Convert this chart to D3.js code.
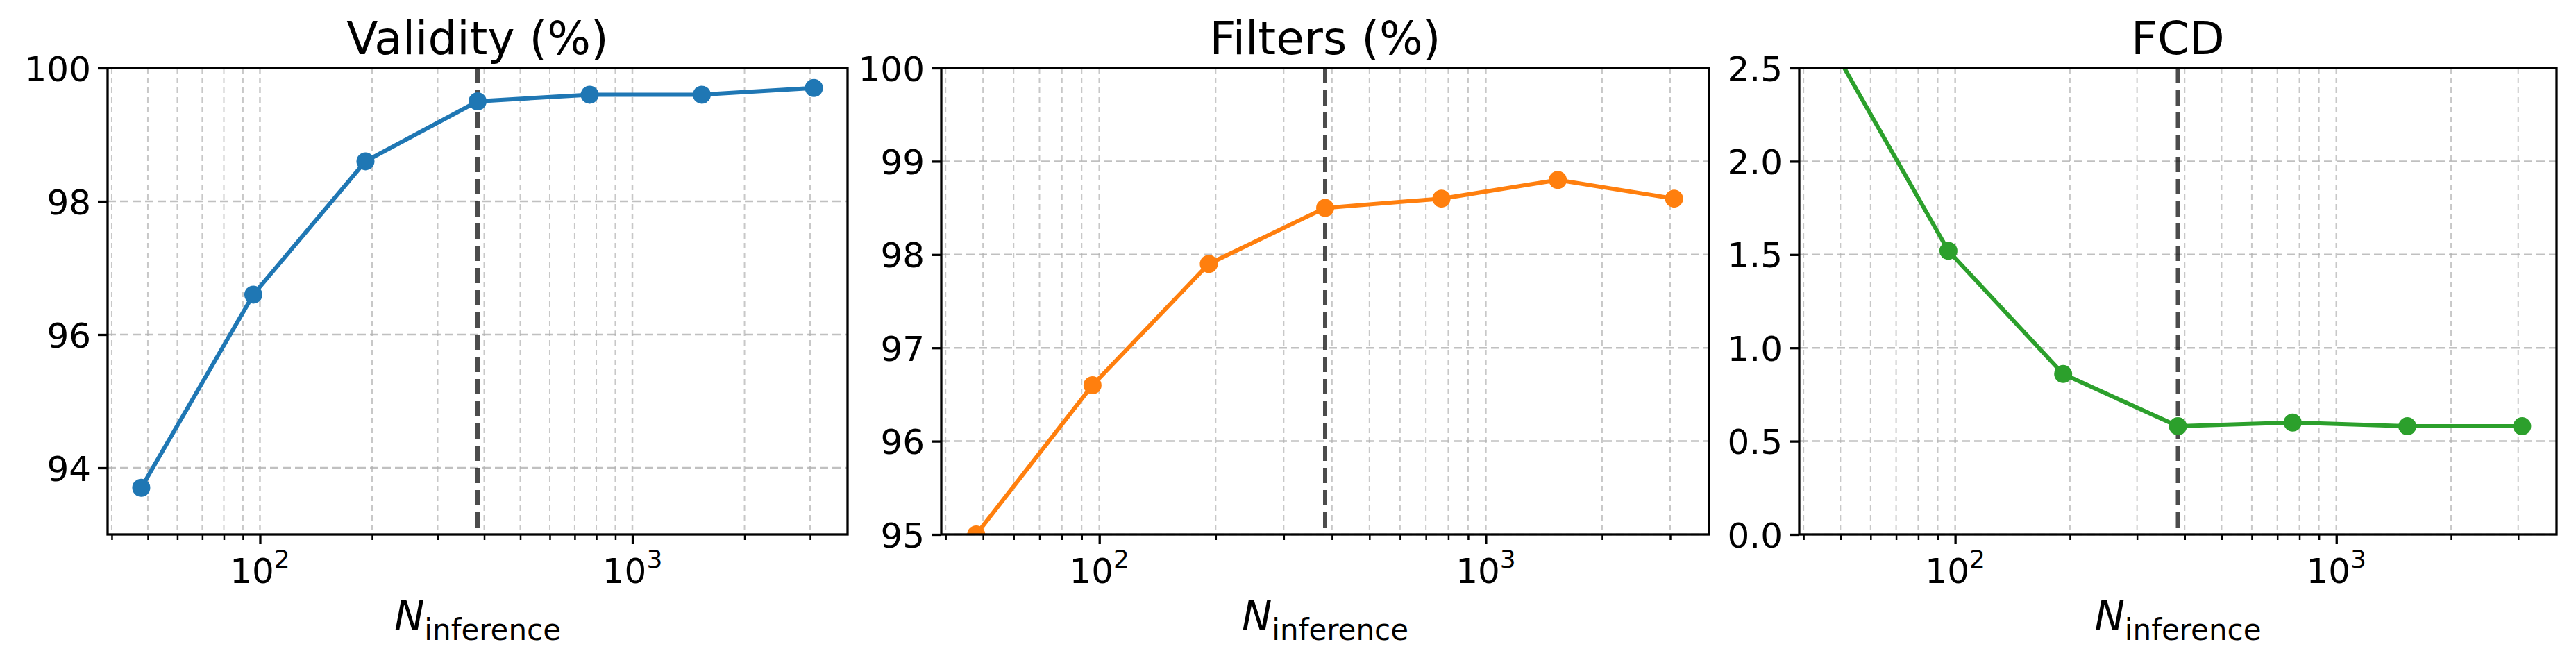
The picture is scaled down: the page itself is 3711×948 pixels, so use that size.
<!DOCTYPE html>
<html><head><meta charset="utf-8">
<script src="https://cdn.jsdelivr.net/npm/d3@7"></script>
<style>body{margin:0;background:#fff}text{font-family:"DejaVu Sans",sans-serif}</style>
</head><body><svg id="c" width="3711" height="948"></svg>
<script>
const nValues = [48, 96, 192, 384, 768, 1536, 3072];
const validity = [93.7, 96.6, 98.6, 99.5, 99.6, 99.6, 99.7];
const filters = [95.0, 96.6, 97.9, 98.5, 98.6, 98.8, 98.6];
const fcd = [2.6, 1.52, 0.86, 0.58, 0.60, 0.58, 0.58];
const titles = ["Validity (%)", "Filters (%)", "FCD"];
const yDomains = [[93, 100], [95, 100], [0, 2.5]];
const yTicks = [[94, 96, 98, 100], [95, 96, 97, 98, 99, 100], [0, 0.5, 1.0, 1.5, 2.0, 2.5]];
const colors = ["#1f77b4", "#ff7f0e", "#2ca02c"];
const refN = 384;
const series = [validity, filters, fcd];
const panelX = [[155, 1221], [1356, 2462], [2592, 3683]];
const yTop = 98, yBot = 770;
const svg = d3.select("#c");
const lx0 = Math.log10(48), lx1 = Math.log10(3072), m = (lx1 - lx0) * 0.05;
const minor = [];
for (const d of [10, 100, 1000]) for (let k = 2; k <= 9; k++) minor.push(k * d);
series.forEach((vals, i) => {
  const [x0, x1] = panelX[i];
  const x = d3.scaleLog().domain([10 ** (lx0 - m), 10 ** (lx1 + m)]).range([x0, x1]);
  const y = d3.scaleLinear().domain(yDomains[i]).range([yBot, yTop]);
  const g = svg.append("g");
  const minorIn = minor.filter(v => v >= x.domain()[0] && v <= x.domain()[1]);
  const grid = "#b0b0b0";
  g.selectAll(".mg").data(minorIn).join("line").attr("x1", d => x(d)).attr("x2", d => x(d))
    .attr("y1", yTop).attr("y2", yBot).attr("stroke", grid).attr("stroke-opacity", 0.7)
    .attr("stroke-width", 2).attr("stroke-dasharray", "8,6");
  g.selectAll(".Mg").data([100, 1000]).join("line").attr("x1", d => x(d)).attr("x2", d => x(d))
    .attr("y1", yTop).attr("y2", yBot).attr("stroke", grid).attr("stroke-opacity", 0.7)
    .attr("stroke-width", 2.5).attr("stroke-dasharray", "8,6");
  g.selectAll(".yg").data(yTicks[i]).join("line").attr("x1", x0).attr("x2", x1)
    .attr("y1", d => y(d)).attr("y2", d => y(d)).attr("stroke", grid).attr("stroke-opacity", 0.8)
    .attr("stroke-width", 2.5).attr("stroke-dasharray", "12,6");
  const clipId = "clip" + i;
  svg.append("clipPath").attr("id", clipId).append("rect").attr("x", x0).attr("y", yTop).attr("width", x1 - x0).attr("height", yBot - yTop);
  const pg = g.append("g").attr("clip-path", `url(#${clipId})`);
  pg.append("line").attr("x1", x(refN)).attr("x2", x(refN)).attr("y1", yTop).attr("y2", yBot)
    .attr("stroke", "#000").attr("stroke-opacity", 0.7).attr("stroke-width", 6).attr("stroke-dasharray", "22,10");
  pg.append("path").datum(vals.map((v, j) => [nValues[j], v]))
    .attr("d", d3.line().x(d => x(d[0])).y(d => y(d[1])))
    .attr("fill", "none").attr("stroke", colors[i]).attr("stroke-width", 6);
  pg.selectAll("circle").data(vals).join("circle").attr("cx", (d, j) => x(nValues[j])).attr("cy", d => y(d))
    .attr("r", 13).attr("fill", colors[i]);
  const xa = g.append("g").attr("transform", `translate(0,${yBot})`)
    .call(d3.axisBottom(x).tickValues([100, 1000]).tickSize(14).tickFormat(""));
  xa.selectAll("line").attr("stroke-width", 3.3);
  const xm = g.append("g").attr("transform", `translate(0,${yBot})`)
    .call(d3.axisBottom(x).tickValues(minorIn).tickSize(8).tickFormat(""));
  xm.selectAll("line").attr("stroke-width", 2.5);
  xa.select(".domain").remove(); xm.select(".domain").remove();
  [[100, "2"], [1000, "3"]].forEach(([v, e]) => {
    const t = g.append("text").attr("x", x(v)).attr("y", yBot + 70).attr("text-anchor", "middle").attr("font-size", 50);
    t.append("tspan").text("10");
    t.append("tspan").attr("dy", -22).attr("font-size", 36).text(e);
  });
  const ya = g.append("g").attr("transform", `translate(${x0},0)`)
    .call(d3.axisLeft(y).tickValues(yTicks[i]).tickSize(14).tickPadding(10)
      .tickFormat(i === 2 ? d3.format(".1f") : d3.format("d")));
  ya.select(".domain").remove();
  ya.selectAll("line").attr("stroke-width", 3.3);
  ya.selectAll("text").attr("font-size", 50).attr("font-family", "DejaVu Sans").attr("dy", "0.36em");
  g.append("rect").attr("x", x0).attr("y", yTop).attr("width", x1 - x0).attr("height", yBot - yTop)
    .attr("fill", "none").attr("stroke", "#000").attr("stroke-width", 3.3);
  g.append("text").attr("x", (x0 + x1) / 2).attr("y", 78).attr("text-anchor", "middle").attr("font-size", 66).text(titles[i]);
  const xl = g.append("text").attr("x", (x0 + x1) / 2).attr("y", 908).attr("text-anchor", "middle").attr("font-size", 58);
  xl.append("tspan").attr("font-style", "italic").text("N");
  xl.append("tspan").attr("dy", 14).attr("font-size", 42).text("inference");
});
</script></body></html>
